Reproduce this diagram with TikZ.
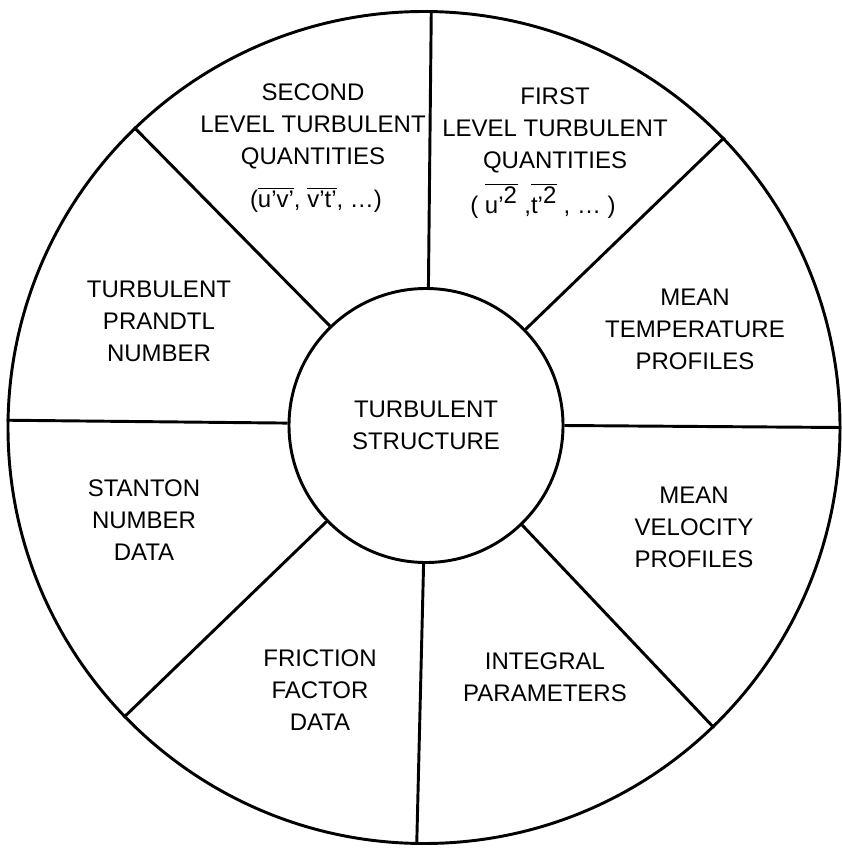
\documentclass[tikz,border=0pt]{standalone}
\usepackage{fontspec}
\setmainfont{Liberation Sans}
\usetikzlibrary{positioning}
\tikzset{
  wheel/.style = {draw, circle, line width=2.2pt, inner sep=0pt},
  spoke/.style = {line width=2.2pt},
  sector/.style = {align=center, inner sep=0pt, font=\fontsize{18}{24}\selectfont},
}

\begin{document}
\begin{tikzpicture}[x=0.75pt,y=-0.75pt]
  \useasboundingbox (0,0) rectangle (841,848);

  \node[wheel, minimum size=624pt] (rim) at (424,427.5) {};
  \node[wheel, minimum size=205.5pt, sector] (core) at (426,425.5) {TURBULENT\\STRUCTURE};

  % eight spokes, the drawing is turned a little
  \foreach \a in {0,45,...,315}{
    \pgfmathsetmacro\b{\a-0.5}
    \draw[spoke] (core.\b) -- (rim.\b);
  }

  \node[sector] (second) at (313,126) {SECOND\\LEVEL TURBULENT\\QUANTITIES};
  \node[sector] (secondq) at (316,200)
    {($\overline{\hbox{u'v'}}$, $\overline{\hbox{v't'}}$, \ldots)};
  \node[sector] (first) at (555,130.5) {FIRST\\LEVEL TURBULENT\\QUANTITIES};
  \node[sector] (firstq) at (543,201)
    {( $\overline{\hbox{u'}^{\hbox{2}}}$ ,$\overline{\hbox{t'}^{\hbox{2}}}$ , \ldots\ )};

  \node[sector] (prandtl) at (159,321) {TURBULENT\\PRANDTL\\NUMBER};
  \node[sector] (meantemp) at (695,329) {MEAN\\TEMPERATURE\\PROFILES};
  \node[sector] (stanton) at (144,520.5) {STANTON\\NUMBER\\DATA};
  \node[sector] (meanvel) at (694,527.5) {MEAN\\VELOCITY\\PROFILES};
  \node[sector] (friction) at (320,690) {FRICTION\\FACTOR\\DATA};
  \node[sector] (integral) at (545,677.5) {INTEGRAL\\PARAMETERS};
\end{tikzpicture}
\end{document}
